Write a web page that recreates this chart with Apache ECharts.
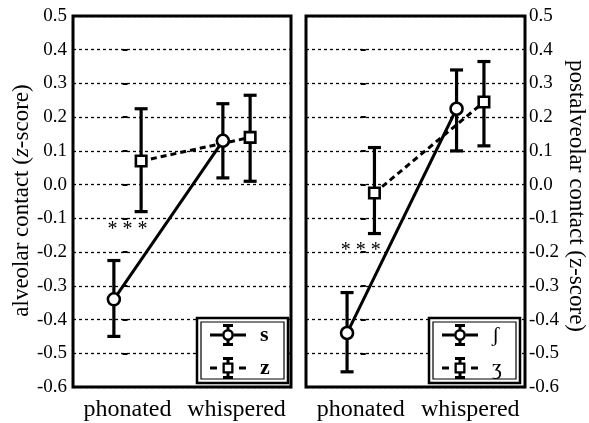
<!DOCTYPE html>
<html><head><meta charset="utf-8">
<script src="https://cdn.jsdelivr.net/npm/echarts@6/dist/echarts.min.js"></script>
<style>html,body{margin:0;padding:0;background:#fff}#c{width:589px;height:423px}</style>
</head><body><div id="c"></div>
<script>
// ---- data ----
const categories = ['phonated', 'whispered'];
// left panel (alveolar)
const sMean = [-0.34, 0.13];
const sLow  = [-0.45, 0.02];
const sHigh = [-0.225, 0.24];
const zMean = [0.07, 0.14];
const zLow  = [-0.08, 0.01];
const zHigh = [0.225, 0.265];
// right panel (postalveolar)
const shMean = [-0.44, 0.225];
const shLow  = [-0.555, 0.10];
const shHigh = [-0.32, 0.34];
const zhMean = [-0.025, 0.245];
const zhLow  = [-0.145, 0.115];
const zhHigh = [0.11, 0.365];
// significance markers: [category index, y value]
const sigText = '* * *';
const sigLeft = [0, -0.135];
const sigRight = [0, -0.195];
const yMin = -0.6, yMax = 0.5, yStep = 0.1;

// ---- styling ----
const FONT = 'Liberation Serif, DejaVu Serif, serif';
const DODGE = 0.125;
const circleIcon = 'path://M0 9.5H12V12.5H0Z M24 9.5H36V12.5H24Z M12 11A6 6 0 1 1 24 11A6 6 0 1 1 12 11Z M14.6 11A3.4 3.4 0 1 0 21.4 11A3.4 3.4 0 1 0 14.6 11Z M13 0H23V3H13Z M16.5 3H19.5V5.4H16.5Z M16.5 16.6H19.5V19H16.5Z M13 19H23V22H13Z';
const squareIcon = 'path://M0 9.5H7V12.5H0Z M29 9.5H36V12.5H29Z M12.5 5.5H23.5V16.5H12.5Z M14.8 7.8V14.2H21.2V7.8Z M13 0H23V3H13Z M16.5 3H19.5V5.8H16.5Z M16.5 16.2H19.5V19H16.5Z M13 19H23V22H13Z';

function pts(means, off) { return means.map((v, i) => [i + off, v]); }
function errs(lo, hi, off) { return lo.map((v, i) => [i + off, v, hi[i]]); }

function errRender(params, api) {
  const x = api.value(0), lo = api.value(1), hi = api.value(2);
  const a = api.coord([x, lo]), b = api.coord([x, hi]);
  const cw = 6.5;
  const st = { stroke: '#000', lineWidth: 3.2, fill: null };
  return { type: 'group', children: [
    { type: 'line', shape: { x1: a[0], y1: a[1], x2: b[0], y2: b[1] }, style: st },
    { type: 'line', shape: { x1: a[0] - cw, y1: a[1], x2: a[0] + cw, y2: a[1] }, style: st },
    { type: 'line', shape: { x1: b[0] - cw, y1: b[1], x2: b[0] + cw, y2: b[1] }, style: st }
  ]};
}
function textRender(params, api) {
  const p = api.coord([api.value(0), api.value(1)]);
  return { type: 'text', x: p[0], y: p[1], style: { text: sigText, fill: '#000', fontSize: 20, fontFamily: FONT, align: 'center', verticalAlign: 'middle' } };
}

function catAxis(g) {
  return { type: 'category', gridIndex: g, data: categories, boundaryGap: true,
    axisLine: { show: false }, axisTick: { show: false },
    axisLabel: { color: '#000', fontSize: 24, fontFamily: FONT, margin: 11, interval: 0 } };
}
function valX(g) { return { type: 'value', gridIndex: g, min: -0.5, max: 1.5, show: false }; }
function yAx(g, pos, name, rot, gap, rich, pad, lm) {
  return { type: 'value', gridIndex: g, position: pos, min: yMin, max: yMax, interval: yStep,
    axisLine: { show: false },
    axisTick: { show: true, length: 5, lineStyle: { color: '#000', width: 2 } },
    axisLabel: { color: '#000', fontSize: 19, fontFamily: FONT, margin: lm,
      formatter: v => (Math.abs(v) < 1e-9 ? 0 : v).toFixed(1) },
    splitLine: { show: true, lineStyle: { color: '#000', width: 1.3, type: [3, 3] } },
    name: name, nameLocation: 'middle', nameRotate: rot, nameGap: gap,
    nameTextStyle: { color: '#000', fontSize: 23, fontFamily: FONT, rich: rich, padding: pad } };
}
function lineSeries(name, xi, yi, data, symbol, dashed) {
  return { type: 'line', name: name, xAxisIndex: xi, yAxisIndex: yi, data: data,
    symbol: symbol, symbolSize: symbol === 'circle' ? 12 : 10.5,
    itemStyle: { color: '#fff', borderColor: '#000', borderWidth: 2.6 },
    lineStyle: { color: '#000', width: 3, type: dashed ? [6, 4] : 'solid' },
    z: 5, animation: false };
}
function errSeries(name, xi, yi, data) {
  return { type: 'custom', name: name, xAxisIndex: xi, yAxisIndex: yi, data: data,
    renderItem: errRender, encode: { x: 0, y: [1, 2] }, z: 3, animation: false, silent: true };
}
function legendItem(name, icon) {
  return { name: name, icon: icon, itemStyle: { color: '#000', borderWidth: 0, opacity: 1 } };
}
function legendBox(x, y) {
  return [
    { type: 'rect', shape: { x: x, y: y, width: 91, height: 65 }, style: { fill: '#fff', stroke: '#000', lineWidth: 2.5 }, z: 10 },
    { type: 'rect', shape: { x: x + 4, y: y + 4, width: 83, height: 57 }, style: { fill: null, stroke: '#000', lineWidth: 1.2 }, z: 11 }
  ];
}

const chart = echarts.init(document.getElementById('c'), null, { renderer: 'canvas' });
chart.setOption({
  animation: false,
  backgroundColor: '#fff',
  grid: [
    { left: 73, top: 16, width: 218, height: 371, show: true, borderColor: '#000', borderWidth: 3, backgroundColor: 'transparent' },
    { left: 306, top: 16, width: 222, height: 371, show: true, borderColor: '#000', borderWidth: 3, backgroundColor: 'transparent' }
  ],
  xAxis: [catAxis(0), catAxis(1), valX(0), valX(1)],
  yAxis: [
    yAx(0, 'left', 'alveolar contact ({i|z}-score)', 90, 35, { i: { fontStyle: 'italic', fontSize: 23, fontFamily: FONT, color: '#000' } }, [0, 0, 0, 2], 6),
    yAx(1, 'right', 'postalveolar contact (z-score)', -90, 40, {}, [0, 11, 0, 0], 4)
  ],
  legend: [
    { data: [legendItem('s', circleIcon), legendItem('z', squareIcon)], orient: 'vertical', left: 210, top: 324,
      itemWidth: 36, itemHeight: 22, itemGap: 11, selectedMode: false, padding: 0, z: 20,
      textStyle: { color: '#000', fontSize: 22, fontFamily: FONT, fontWeight: 'bold', padding: [0, 0, 0, 9] } },
    { data: [legendItem('ʃ', circleIcon), legendItem('ʒ', squareIcon)], orient: 'vertical', left: 442, top: 324,
      itemWidth: 36, itemHeight: 22, itemGap: 11, selectedMode: false, padding: 0, z: 20,
      textStyle: { color: '#000', fontSize: 22, fontFamily: FONT, padding: [0, 0, 0, 9] } }
  ],
  graphic: legendBox(197, 318).concat(legendBox(429, 318)),
  series: [
    errSeries('s-err', 2, 0, errs(sLow, sHigh, -DODGE)),
    errSeries('z-err', 2, 0, errs(zLow, zHigh, DODGE)),
    lineSeries('s', 2, 0, pts(sMean, -DODGE), 'circle', false),
    lineSeries('z', 2, 0, pts(zMean, DODGE), 'rect', true),
    errSeries('sh-err', 3, 1, errs(shLow, shHigh, -DODGE)),
    errSeries('zh-err', 3, 1, errs(zhLow, zhHigh, DODGE)),
    lineSeries('ʃ', 3, 1, pts(shMean, -DODGE), 'circle', false),
    lineSeries('ʒ', 3, 1, pts(zhMean, DODGE), 'rect', true),
    { type: 'custom', name: 'sig-left', xAxisIndex: 2, yAxisIndex: 0, data: [sigLeft], renderItem: textRender, encode: { x: 0, y: 1 }, z: 6, silent: true },
    { type: 'custom', name: 'sig-right', xAxisIndex: 3, yAxisIndex: 1, data: [sigRight], renderItem: textRender, encode: { x: 0, y: 1 }, z: 6, silent: true }
  ]
});
</script></body></html>
